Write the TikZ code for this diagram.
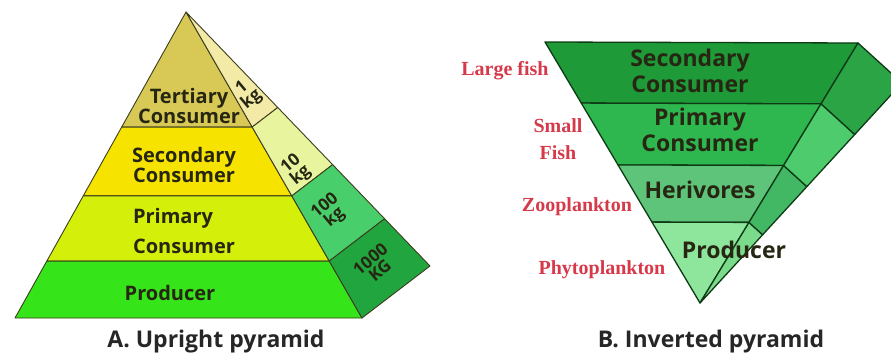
\documentclass[tikz,border=0pt]{standalone}
\usepackage{fontspec}
\setmainfont{Open Sans}
\newfontfamily\redfont{Liberation Serif}
\usepackage{tikz}
\usetikzlibrary{calc}
\definecolor{txtdark}{RGB}{38,38,18}
\definecolor{edgeolive}{RGB}{60,60,30}
\definecolor{edgegreen}{RGB}{14,58,22}
\definecolor{labred}{RGB}{214,58,74}
% upright pyramid
\definecolor{tertfront}{RGB}{216,201,86}
\definecolor{secfront}{RGB}{246,228,0}
\definecolor{primfront}{RGB}{212,240,10}
\definecolor{prodfront}{RGB}{54,228,26}
\definecolor{sideone}{RGB}{243,234,168}
\definecolor{sideten}{RGB}{232,244,158}
\definecolor{sidehun}{RGB}{72,207,108}
\definecolor{sidethou}{RGB}{33,166,63}
% inverted pyramid
\definecolor{invsec}{RGB}{30,154,56}
\definecolor{invprim}{RGB}{46,183,79}
\definecolor{invherb}{RGB}{94,196,121}
\definecolor{invprod}{RGB}{142,229,156}
\definecolor{invsidesec}{RGB}{43,164,70}
\definecolor{invsideprim}{RGB}{77,203,109}
\definecolor{invsideherb}{RGB}{66,184,100}
\definecolor{invsideprod}{RGB}{122,219,138}

\begin{document}
\begin{tikzpicture}[x=1pt,y=-1pt,
  every node/.style={text=txtdark,inner sep=0pt},
  upband/.style={draw=edgeolive,line width=0.9pt,line join=round},
  invband/.style={draw=edgegreen,line width=1.3pt,line join=round},
  uptxt/.style={font=\bfseries\fontsize{20}{19}\selectfont,align=center},
  kgtxt/.style={font=\bfseries\fontsize{17}{15}\selectfont,align=center,rotate=40},
  invtxt/.style={font=\bfseries\fontsize{23}{26}\selectfont,align=center},
  fishlbl/.style={font=\redfont\bfseries\fontsize{20}{27}\selectfont,text=labred,align=center},
  caption/.style={font=\bfseries\fontsize{23}{24}\selectfont,text=black!85}]

\useasboundingbox (0,0) rectangle (891,358);

% --- A. upright pyramid
\coordinate (apex) at (186,12);
\coordinate (baseL) at (15,318);
\coordinate (baseR) at (362,318);
\coordinate (back) at (430,266);
\foreach \n/\t in {1/0.376,2/0.601,3/0.814}{
  \coordinate (L\n) at ($(apex)!\t!(baseL)$);
  \coordinate (R\n) at ($(apex)!\t!(baseR)$);
  \coordinate (B\n) at ($(apex)!\t!(back)$);
}
\filldraw[upband,fill=tertfront] (apex) -- (R1) -- (L1) -- cycle;
\filldraw[upband,fill=secfront] (L1) -- (R1) -- (R2) -- (L2) -- cycle;
\filldraw[upband,fill=primfront] (L2) -- (R2) -- (R3) -- (L3) -- cycle;
\filldraw[upband,fill=prodfront] (L3) -- (R3) -- (baseR) -- (baseL) -- cycle;
\filldraw[upband,fill=sideone] (apex) -- (B1) -- (R1) -- cycle;
\filldraw[upband,fill=sideten] (R1) -- (B1) -- (B2) -- (R2) -- cycle;
\filldraw[upband,fill=sidehun] (R2) -- (B2) -- (B3) -- (R3) -- cycle;
\filldraw[upband,fill=sidethou] (R3) -- (B3) -- (back) -- (baseR) -- cycle;

\node[uptxt] (tert) at (189,106) {Tertiary\\Consumer};
\node[uptxt] (sec) at (184,165) {Secondary\\Consumer};
\node[uptxt,align=left] (prim) at (184,231) {Primary\\[9pt]Consumer};
\node[uptxt] (prod) at (170,293) {Producer};
\node[kgtxt] (kgone) at (247,94) {1\\kg};
\node[kgtxt] (kgten) at (296,170) {10\\kg};
\node[kgtxt] (kghun) at (330,212) {100\\kg};
\node[kgtxt] (kgthou) at (375,265) {1000\\KG};
\node[caption] (capA) at (216,342) {A. Upright pyramid};

% --- B. inverted pyramid
\coordinate (tip) at (700,303);
\coordinate (topL) at (545,42);
\coordinate (topR) at (858,43);
\coordinate (corner) at (902,83);
\foreach \n/\s in {1/0.310,2/0.529,3/0.766}{
  \coordinate (l\n) at ($(tip)!\s!(topL)$);
  \coordinate (r\n) at ($(tip)!\s!(topR)$);
  \coordinate (k\n) at ($(tip)!\s!(corner)$);
}
\begin{scope}
  \clip (0,0) rectangle (891,358);
  \filldraw[invband,fill=invsec] (l3) -- (r3) -- (topR) -- (topL) -- cycle;
  \filldraw[invband,fill=invprim] (l2) -- (r2) -- (r3) -- (l3) -- cycle;
  \filldraw[invband,fill=invherb] (l1) -- (r1) -- (r2) -- (l2) -- cycle;
  \filldraw[invband,fill=invprod] (tip) -- (r1) -- (l1) -- cycle;
  \filldraw[invband,fill=invsideprod] (tip) -- (k1) -- (r1) -- cycle;
  \filldraw[invband,fill=invsideherb] (r1) -- (k1) -- (k2) -- (r2) -- cycle;
  \filldraw[invband,fill=invsideprim] (r2) -- (k2) -- (k3) -- (r3) -- cycle;
  \filldraw[invband,fill=invsidesec] (r3) -- (k3) -- (corner) -- (topR) -- cycle;
\end{scope}

\node[invtxt] (isec) at (690,71) {Secondary\\Consumer};
\node[invtxt] (iprim) at (700,130) {Primary\\Consumer};
\node[invtxt] (iherb) at (700,190) {Herivores};
\node[invtxt] (iprod) at (734,250) {Producer};

\node[fishlbl] (large) at (505,71) {Large fish};
\node[fishlbl] (small) at (558,139) {Small\\Fish};
\node[fishlbl] (zoo) at (577,207) {Zooplankton};
\node[fishlbl] (phyto) at (602,270) {Phytoplankton};
\node[caption] (capB) at (711,342) {B. Inverted pyramid};
\end{tikzpicture}
\end{document}
